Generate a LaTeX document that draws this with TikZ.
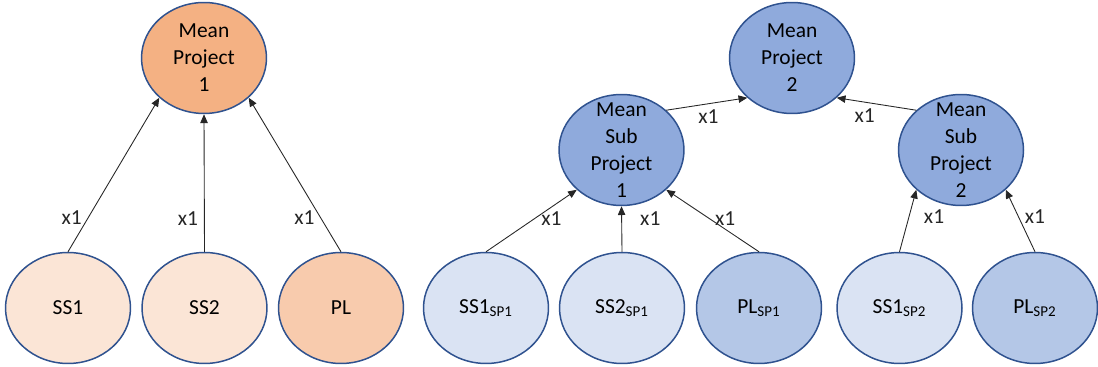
\documentclass[tikz,border=0pt]{standalone}
\usepackage{fontspec}
\setmainfont{Carlito}
\usepackage{xcolor}
\usepackage{tikz}
\usetikzlibrary{positioning,arrows.meta,shapes.geometric}

\definecolor{rim}{HTML}{2F528F}
\definecolor{orDark}{HTML}{F4B183}
\definecolor{orMid}{HTML}{F8CBAD}
\definecolor{orLight}{HTML}{FBE5D6}
\definecolor{blDark}{HTML}{8FAADC}
\definecolor{blMid}{HTML}{B4C7E7}
\definecolor{blLight}{HTML}{DAE3F3}

\tikzset{
  blob/.style={ellipse, draw=rim, line width=0.85pt, minimum width=2.5cm,
    minimum height=2.22cm, inner xsep=0pt, inner ysep=-1cm, align=center,
    font=\fontsize{12.2}{15.3}\selectfont},
  link/.style={-{Triangle[length=5pt,width=4.2pt]}, line width=0.5pt, black!85},
  wt/.style={font=\fontsize{12.2}{15.3}\selectfont}
}

\begin{document}
\begin{tikzpicture}[x=0.02cm, y=-0.02cm]
    \useasboundingbox (0,0) rectangle (1098,367);

    % Project 1
    \node[blob, fill=orDark]  (mp1) at (204,58)  {Mean\\Project\\1};
    \node[blob, fill=orLight] (ss1) at (68,308)  {SS1};
    \node[blob, fill=orLight] (ss2) at (204.5,308) {SS2};
    \node[blob, fill=orMid]   (pl)  at (341,308) {PL};

    \draw[link] (ss1.north) -- node[wt, pos=0.22, left]{x1} (mp1.south west);
    \draw[link] (ss2.north) -- node[wt, pos=0.24, left]{x1} (mp1.south);
    \draw[link] (pl.north)  -- node[wt, pos=0.22, left]{x1} (mp1.south east);

    % Project 2 with its two sub projects
    \node[blob, fill=blDark] (mp2)  at (792,58)   {Mean\\Project\\2};
    \node[blob, fill=blDark] (msp1) at (621.5,150) {Mean\\Sub\\Project\\1};
    \node[blob, fill=blDark] (msp2) at (961,150)  {Mean\\Sub\\Project\\2};

    \node[blob, fill=blLight] (ss1sp1) at (486,308)    {SS1\textsubscript{SP1}};
    \node[blob, fill=blLight] (ss2sp1) at (622,308)    {SS2\textsubscript{SP1}};
    \node[blob, fill=blMid]   (plsp1)  at (759,308)    {PL\textsubscript{SP1}};
    \node[blob, fill=blLight] (ss1sp2) at (899.5,308)  {SS1\textsubscript{SP2}};
    \node[blob, fill=blMid]   (plsp2)  at (1035,308)   {PL\textsubscript{SP2}};

    \draw[link] (msp1.north east) -- node[wt, pos=0.52, below]{x1} (mp2.south west);
    \draw[link] (msp2.north west) -- node[wt, pos=0.65, below]{x1} (mp2.south east);

    \draw[link] (ss1sp1.north) -- node[wt, pos=0.54, right]{x1} (msp1.south west);
    \draw[link] (ss2sp1.north) -- node[wt, pos=0.72, right=7pt]{x1} (msp1.south);
    \draw[link] (plsp1.north)  -- node[wt, pos=0.54, right]{x1} (msp1.south east);
    \draw[link] (ss1sp2.north) -- node[wt, pos=0.56, right=5pt]{x1} (msp2.south west);
    \draw[link] (plsp2.north)  -- node[wt, pos=0.56, right]{x1} (msp2.south east);
\end{tikzpicture}
\end{document}
